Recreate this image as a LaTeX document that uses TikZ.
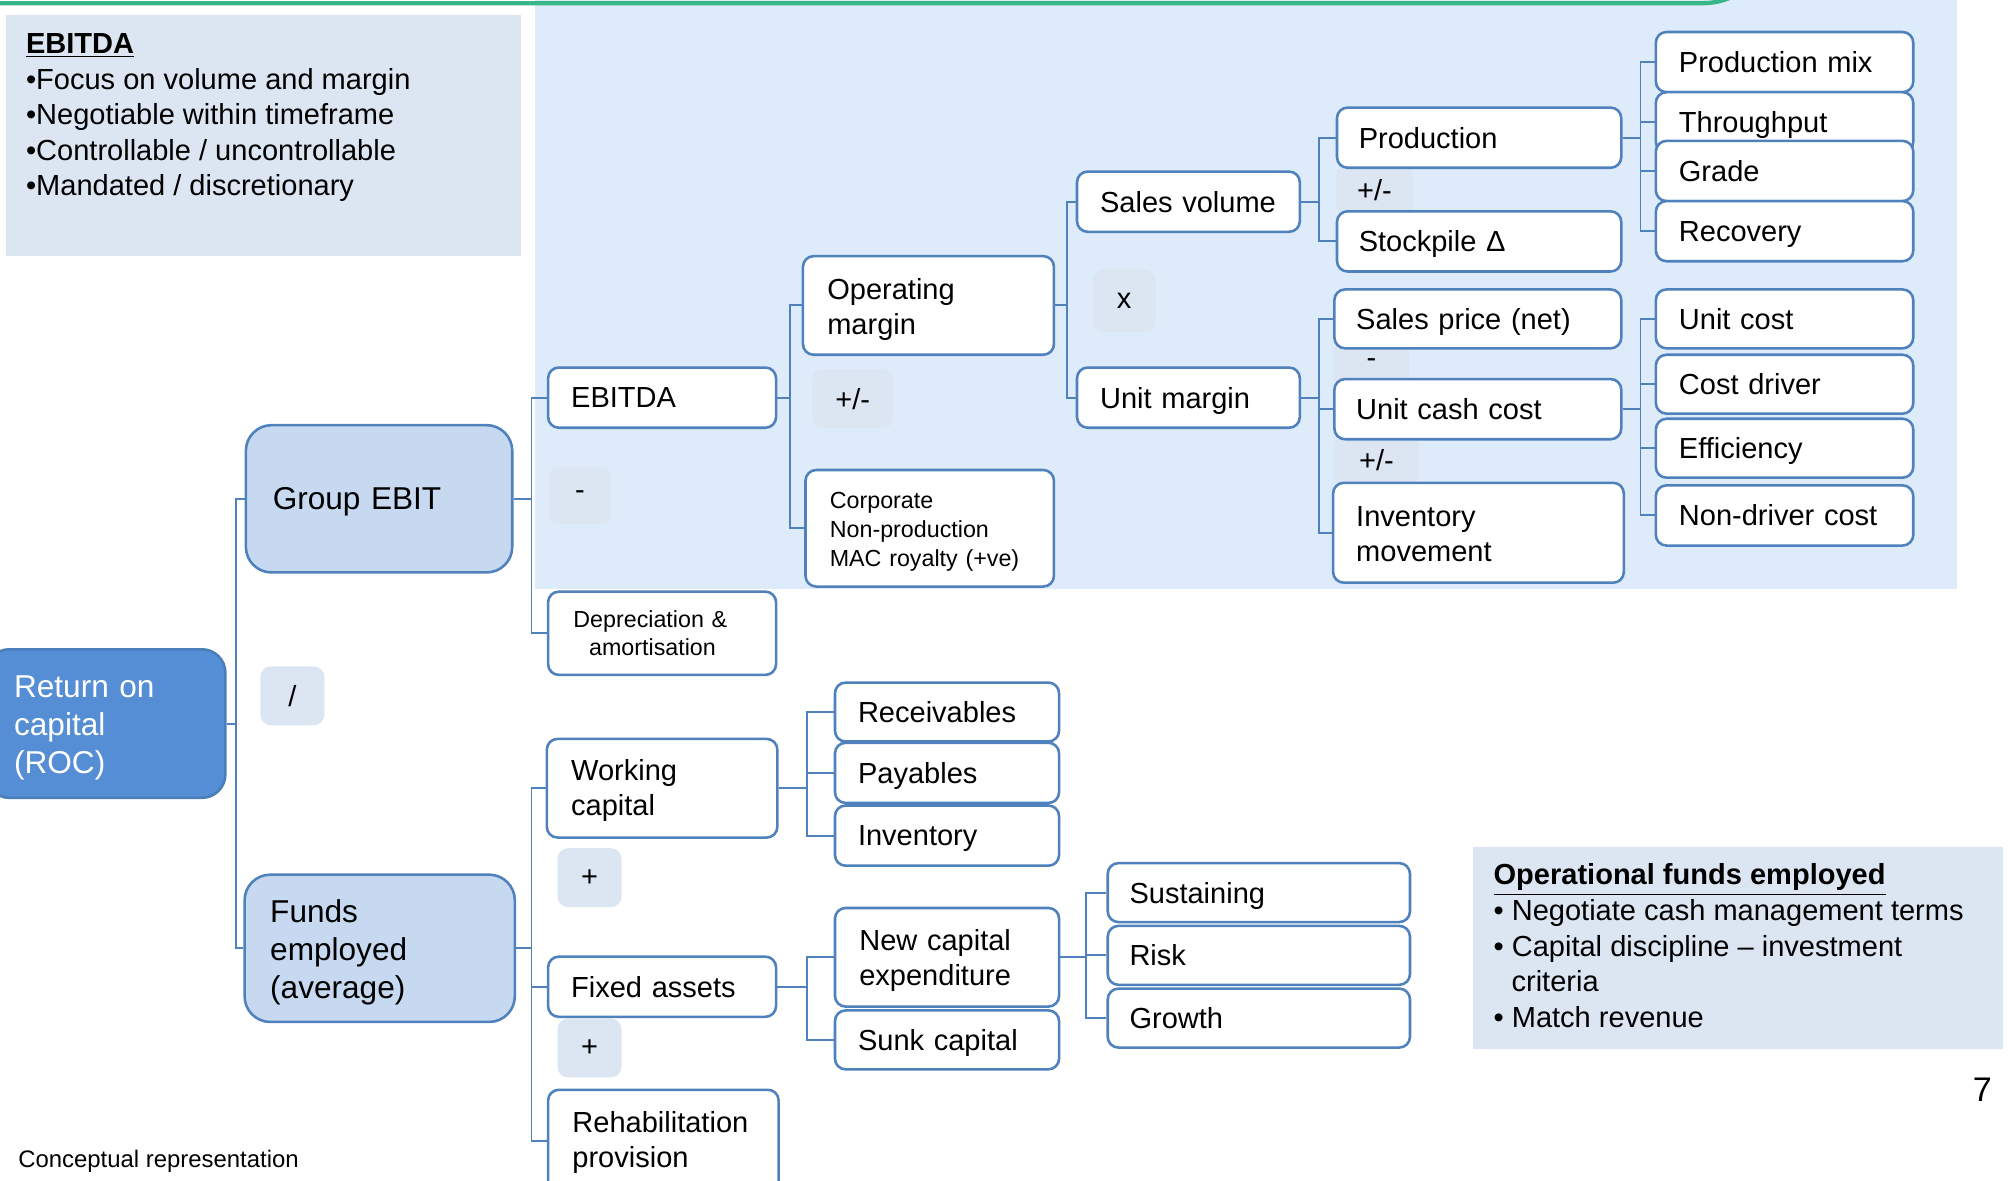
\documentclass[tikz,border=0pt]{standalone}
\usepackage{fontspec}
\setmainfont{Liberation Sans}
\definecolor{panelc}{RGB}{222,235,250}
\definecolor{notec}{RGB}{220,230,242}
\definecolor{opfill}{RGB}{220,230,242}
\definecolor{grpfill}{RGB}{198,217,241}
\definecolor{rocfill}{RGB}{85,142,213}
\definecolor{rocbord}{RGB}{74,126,187}
\definecolor{bordc}{RGB}{79,129,189}
\definecolor{greenc}{RGB}{55,182,135}
\newcommand\fsMain{\fontsize{13.6}{16.5}\selectfont}
\newcommand\fsBig{\fontsize{14.8}{17.8}\selectfont}
\newcommand\fsSmall{\fontsize{10.9}{13.5}\selectfont}
\newcommand\fsTiny{\fontsize{11.2}{13.5}\selectfont}
\newcommand\fl[1]{\rule{0pt}{#1pt}}
% #1 style, #2 name, #3 x1, #4 y1, #5 x2, #6 y2, #7 pad, #8 text
\newcommand\NB[8]{%
  \pgfmathsetmacro\nbh{(#6-#4)*0.6}%
  \pgfmathsetmacro\nbp{#7*0.6}%
  \pgfmathsetmacro\nbt{(#5-#3-2*#7)*0.6}%
  \node[#1, anchor=north west, minimum height=\nbh pt, inner xsep=\nbp pt, text width=\nbt pt] (#2) at (#3,#4) {#8};}
% #1 name, #2 x1, #3 y1, #4 x2, #5 y2, #6 text
\newcommand\OB[6]{%
  \pgfmathsetmacro\obw{(#4-#2)*0.6}%
  \pgfmathsetmacro\obh{(#5-#3)*0.6}%
  \node[opbox, anchor=north west, minimum width=\obw pt, minimum height=\obh pt] (#1) at (#2,#3) {#6};}
\tikzset{
  ndm/.style={draw=bordc, line width=1.2pt, fill=white, rounded corners=5pt, font=\fsMain, align=left, inner ysep=0pt, text=black},
  nd/.style={ndm, text depth=0pt},
  ndc/.style={ndm, align=center},
  bignd/.style={ndm, fill=grpfill, rounded corners=12pt, font=\fsBig},
  rocnd/.style={ndm, draw=rocbord, fill=rocfill, rounded corners=11pt, font=\fsBig, text=white},
  opbox/.style={fill=opfill, rounded corners=5pt, inner sep=0pt, font=\fsMain, align=center},
  conn/.style={draw=bordc, line width=0.9pt},
  txt/.style={inner sep=0pt, font=\fsMain, anchor=base west}
}
\begin{document}
\begin{tikzpicture}[x=0.6pt,y=-0.6pt]
\path[use as bounding box, fill=white] (0,0) rectangle (1568,922);
% backgrounds
\fill[panelc] (418,0) rectangle (1528,460);
\fill[notec] (5,12) rectangle (407,200);
\fill[notec] (1150,661) rectangle (1564,819);
\draw[greenc, line width=2pt] (-5,2.5) -- (1328,2.5) to[out=0,in=-155] (1356,-4);
% note texts
\node[txt] (t1) at (20,42) {\underline{\textbf{EBITDA}}};
\node[txt] (t2) at (20,70) {•Focus on volume and margin};
\node[txt] (t3) at (20,97) {•Negotiable within timeframe};
\node[txt] (t4) at (20,125) {•Controllable / uncontrollable};
\node[txt] (t5) at (20,153) {•Mandated / discretionary};
\node[txt] (o1) at (1166,691) {\underline{\textbf{Operational funds employed}}};
\node[txt] (o2) at (1166,719) {• Negotiate cash management terms};
\node[txt] (o3) at (1166,747) {• Capital discipline – investment};
\node[txt] (o4) at (1180,774) {criteria};
\node[txt] (o5) at (1166,802) {• Match revenue};
% operator boxes
\OB{opdiv}{203}{520}{253}{566}{/}
\OB{opminus}{428}{364}{477}{409}{-}
\OB{oppm1}{634}{288}{697}{334}{+/-}
\OB{opx}{853}{210}{902}{259}{x}
\OB{oppm2}{1043}{128}{1103}{168}{+/-}
\OB{opminus2}{1041}{266}{1100}{300}{-}
\OB{oppm3}{1041}{340}{1108}{378}{+/-}
\OB{opplus1}{435}{662}{485}{708}{+}
\OB{opplus2}{435}{795}{485}{841}{+}
% main nodes
\NB{rocnd}{roc}{-12}{506}{175}{622}{22}{\fl{13.8}Return on\\capital\\(ROC)}
\NB{bignd, text depth=0pt}{gebit}{191}{331}{399}{446}{21}{Group EBIT}
\NB{bignd}{funds}{190}{682}{401}{797}{20}{\fl{14.4}Funds\\employed\\(average)}
\NB{nd}{ebitda}{427}{286}{605}{333}{18}{EBITDA}
\NB{ndc, font=\fsSmall}{depr}{427}{461}{605}{526}{8}{\mbox{Depreciation \&\kern11pt}\\\mbox{amortisation\kern9pt}}
\NB{ndm}{opm}{626}{199}{822}{276}{19}{\fl{13.5}Operating\\margin}
\NB{ndm, font=\fsSmall}{corp}{628}{366}{822}{457}{19}{\fl{10.8}Corporate\\Non-production\\MAC royalty (+ve)}
\NB{nd}{salesvol}{840}{133}{1014}{180}{18}{Sales volume}
\NB{nd}{unitm}{840}{286}{1014}{333}{18}{Unit margin}
\NB{nd}{prod}{1043}{83}{1265}{130}{17}{Production}
\NB{nd}{stock}{1043}{164}{1265}{211}{17}{Stockpile Δ}
\NB{nd}{sprice}{1041}{225}{1265}{271}{17}{Sales price (net)}
\NB{nd}{ucc}{1041}{295}{1265}{342}{17}{Unit cash cost}
\NB{ndm}{invm}{1040}{376}{1267}{454}{18}{\fl{10.8}Inventory\\movement}
\NB{nd}{pmix}{1292}{24}{1493}{71}{18}{Production mix}
\NB{nd}{thru}{1292}{71}{1493}{118}{18}{Throughput}
\NB{nd}{grade}{1292}{109}{1493}{156}{18}{Grade}
\NB{nd}{recov}{1292}{156}{1493}{203}{18}{Recovery}
\NB{nd}{ucost}{1292}{225}{1493}{271}{18}{Unit cost}
\NB{nd}{cdriver}{1292}{276}{1493}{322}{18}{Cost driver}
\NB{nd}{effic}{1292}{326}{1493}{372}{18}{Efficiency}
\NB{nd}{nondrv}{1292}{378}{1493}{425}{18}{Non-driver cost}
\NB{ndm}{wcap}{426}{576}{606}{653}{19}{\fl{12.3}Working\\capital}
\NB{nd}{fixed}{427}{746}{605}{793}{18}{Fixed assets}
\NB{ndm}{rehab}{427}{850}{607}{930}{19}{\fl{11.1}Rehabilitation\\provision}
\NB{nd}{recv}{651}{532}{826}{578}{18}{Receivables}
\NB{nd}{payb}{651}{579}{826}{626}{18}{Payables}
\NB{nd}{invt}{651}{628}{826}{675}{18}{Inventory}
\NB{ndm}{capex}{651}{708}{826}{785}{19}{\fl{12.9}New capital\\expenditure}
\NB{nd}{sunk}{651}{788}{826}{834}{18}{Sunk capital}
\NB{nd}{sust}{864}{673}{1100}{719}{17}{Sustaining}
\NB{nd}{risk}{864}{722}{1100}{768}{17}{Risk}
\NB{nd}{growth}{864}{771}{1100}{817}{17}{Growth}
% connectors
\foreach \c in {gebit,funds} \draw[conn] (roc.east) -- ++(7,0) |- (\c.west);
\foreach \c in {ebitda,depr} \draw[conn] (gebit.east) -- ++(14,0) |- (\c.west);
\foreach \c in {wcap,fixed,rehab} \draw[conn] (funds.east) -- ++(12,0) |- (\c.west);
\foreach \c in {opm,corp} \draw[conn] (ebitda.east) -- ++(10,0) |- (\c.west);
\foreach \c in {salesvol,unitm} \draw[conn] (opm.east) -- ++(9,0) |- (\c.west);
\foreach \c in {prod,stock} \draw[conn] (salesvol.east) -- ++(14,0) |- (\c.west);
\foreach \c in {sprice,ucc,invm} \draw[conn] (unitm.east) -- ++(14,0) |- (\c.west);
\foreach \c in {pmix,thru,grade,recov} \draw[conn] (prod.east) -- ++(14,0) |- (\c.west);
\foreach \c in {ucost,cdriver,effic,nondrv} \draw[conn] (ucc.east) -- ++(14,0) |- (\c.west);
\foreach \c in {recv,payb,invt} \draw[conn] (wcap.east) -- ++(22,0) |- (\c.west);
\foreach \c in {capex,sunk} \draw[conn] (fixed.east) -- ++(23,0) |- (\c.west);
\foreach \c in {sust,risk,growth} \draw[conn] (capex.east) -- ++(20,0) |- (\c.west);
% loose texts
\node[inner sep=0pt, font=\fontsize{16}{19}\selectfont] (pagenum) at (1548,851) {7};
\node[txt, font=\fsTiny] (concept) at (14,912) {Conceptual representation};
\end{tikzpicture}
\end{document}
